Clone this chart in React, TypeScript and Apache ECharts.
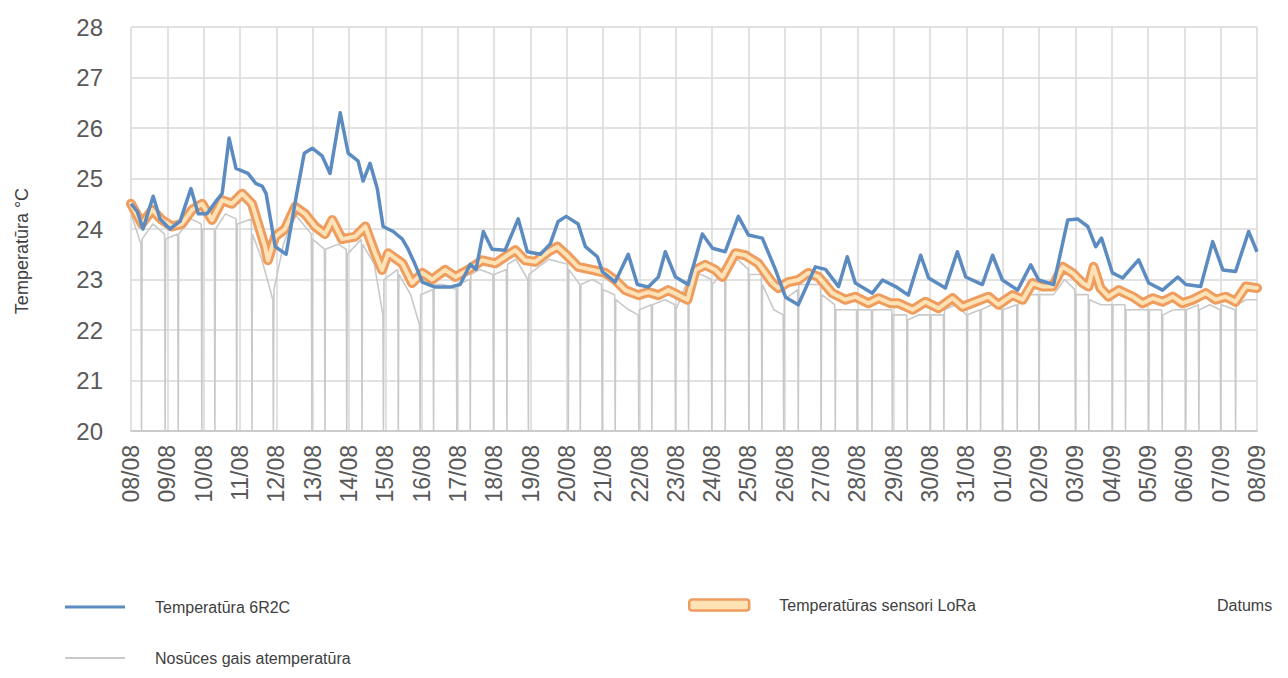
import React, { useEffect, useRef } from 'react';
import * as echarts from 'echarts';

// Day labels along the x axis (one per day, 08 Aug – 08 Sep)
const dayLabels: string[] = [
  '08/08', '09/08', '10/08', '11/08', '12/08', '13/08', '14/08', '15/08',
  '16/08', '17/08', '18/08', '19/08', '20/08', '21/08', '22/08', '23/08',
  '24/08', '25/08', '26/08', '27/08', '28/08', '29/08', '30/08', '31/08',
  '01/09', '02/09', '03/09', '04/09', '05/09', '06/09', '07/09', '08/09',
];

// [day offset from 08/08, °C]
const temp6R2C: [number, number][] = [
  [0, 24.5], [0.17, 24.35], [0.33, 24.0], [0.61, 24.65], [0.8, 24.2], [1.07, 24.0], [1.35, 24.15],
  [1.65, 24.8], [1.85, 24.3], [2.09, 24.3], [2.34, 24.55], [2.51, 24.7], [2.7, 25.8], [2.89, 25.2],
  [3.22, 25.1], [3.44, 24.9], [3.61, 24.85], [3.72, 24.7], [3.97, 23.65], [4.27, 23.5], [4.55, 24.65],
  [4.77, 25.5], [4.99, 25.6], [5.26, 25.45], [5.48, 25.1], [5.76, 26.3], [5.98, 25.5], [6.25, 25.35],
  [6.39, 24.95], [6.58, 25.3], [6.78, 24.8], [6.94, 24.05], [7.22, 23.95], [7.47, 23.8], [7.63, 23.6],
  [7.82, 23.3], [8.02, 22.95], [8.37, 22.85], [8.79, 22.85], [9.06, 22.9], [9.34, 23.3], [9.5, 23.2],
  [9.7, 23.95], [9.94, 23.6], [10.3, 23.58], [10.66, 24.2], [10.91, 23.55], [11.27, 23.5], [11.54, 23.7],
  [11.76, 24.15], [11.98, 24.25], [12.31, 24.1], [12.51, 23.65], [12.84, 23.45], [12.98, 23.15],
  [13.33, 22.95], [13.69, 23.5], [13.94, 22.9], [14.24, 22.85], [14.52, 23.05], [14.71, 23.55],
  [14.99, 23.05], [15.34, 22.9], [15.73, 23.9], [16.01, 23.62], [16.36, 23.55], [16.72, 24.25],
  [17.0, 23.88], [17.38, 23.82], [17.74, 23.2], [18.02, 22.65], [18.37, 22.5], [18.84, 23.25],
  [19.12, 23.2], [19.48, 22.86], [19.72, 23.45], [19.94, 22.93], [20.41, 22.73], [20.69, 22.99],
  [21.05, 22.86], [21.4, 22.69], [21.74, 23.48], [21.96, 23.03], [22.42, 22.83], [22.75, 23.55],
  [22.98, 23.05], [23.44, 22.9], [23.72, 23.48], [23.99, 22.99], [24.41, 22.79], [24.77, 23.29],
  [24.99, 22.99], [25.4, 22.9], [25.79, 24.18], [26.06, 24.2], [26.34, 24.05], [26.56, 23.65],
  [26.72, 23.82], [27.02, 23.13], [27.3, 23.03], [27.74, 23.39], [28.02, 22.93], [28.4, 22.79],
  [28.82, 23.05], [29.04, 22.9], [29.45, 22.86], [29.78, 23.75], [30.06, 23.19], [30.41, 23.16],
  [30.77, 23.95], [31, 23.55],
];

const loraSensors: [number, number][] = [
  [0, 24.5], [0.3, 24.1], [0.58, 24.38], [0.85, 24.18], [1.13, 24.05], [1.4, 24.1], [1.68, 24.38],
  [1.96, 24.5], [2.23, 24.18], [2.51, 24.57], [2.78, 24.5], [3.06, 24.7], [3.33, 24.5], [3.5, 24.1],
  [3.69, 23.65], [3.77, 23.38], [3.97, 23.85], [4.24, 24.0], [4.52, 24.44], [4.79, 24.3], [5.07, 24.05],
  [5.34, 23.9], [5.54, 24.18], [5.81, 23.8], [6.17, 23.85], [6.45, 24.05], [6.72, 23.52], [6.91, 23.19],
  [7.08, 23.52], [7.47, 23.32], [7.74, 22.93], [8.02, 23.13], [8.29, 23.0], [8.65, 23.19], [8.93, 23.05],
  [9.28, 23.19], [9.67, 23.38], [10.03, 23.32], [10.3, 23.45], [10.58, 23.58], [10.85, 23.38],
  [11.13, 23.35], [11.49, 23.55], [11.74, 23.65], [12.04, 23.45], [12.31, 23.25], [12.7, 23.19],
  [13.06, 23.13], [13.33, 22.99], [13.61, 22.79], [13.97, 22.69], [14.24, 22.75], [14.52, 22.69],
  [14.79, 22.79], [15.07, 22.69], [15.32, 22.6], [15.54, 23.19], [15.81, 23.29], [16.09, 23.19],
  [16.28, 23.05], [16.64, 23.52], [16.91, 23.48], [17.27, 23.32], [17.66, 22.93], [17.82, 22.83],
  [18.1, 22.95], [18.37, 22.99], [18.65, 23.13], [18.93, 23.05], [19.31, 22.73], [19.67, 22.6],
  [19.94, 22.66], [20.3, 22.53], [20.58, 22.63], [20.91, 22.53], [21.13, 22.53], [21.52, 22.4],
  [21.87, 22.56], [22.23, 22.43], [22.62, 22.63], [22.89, 22.46], [23.25, 22.56], [23.61, 22.66],
  [23.88, 22.5], [24.27, 22.69], [24.55, 22.6], [24.82, 22.93], [25.1, 22.86], [25.37, 22.86],
  [25.65, 23.25], [25.92, 23.13], [26.2, 22.93], [26.36, 22.86], [26.5, 23.25], [26.69, 22.83],
  [26.91, 22.66], [27.19, 22.79], [27.58, 22.66], [27.85, 22.53], [28.13, 22.63], [28.4, 22.56],
  [28.68, 22.66], [28.95, 22.53], [29.23, 22.6], [29.59, 22.73], [29.86, 22.6], [30.14, 22.66],
  [30.41, 22.56], [30.69, 22.86], [31, 22.83],
];

// Exhaust air: the reading falls to the axis floor twice a day
const exhaustAir: [number, number][] = [
  [0, 24.3], [0.275, 23.7], [0.29, 20], [0.305, 23.8], [0.6, 24.1],
  [0.925, 23.9], [0.94, 20], [0.955, 23.8], [1.285, 23.9], [1.3, 20], [1.315, 23.9], [1.65, 24.2],
  [1.935, 24.1], [1.95, 20], [1.965, 24.0], [2.295, 24.0], [2.31, 20], [2.325, 24.0], [2.6, 24.3],
  [2.895, 24.2], [2.91, 20], [2.925, 24.1], [3.315, 24.2], [3.33, 20], [3.345, 23.9], [3.6, 23.4],
  [3.905, 22.6], [3.92, 20], [3.935, 22.8], [4.2, 23.7], [4.5, 24.3],
  [4.965, 23.9], [4.98, 20], [4.995, 23.8], [5.325, 23.6], [5.34, 20], [5.355, 23.6], [5.7, 23.7],
  [5.925, 23.6], [5.94, 20], [5.955, 23.5], [6.345, 23.8], [6.36, 20], [6.375, 23.7], [6.7, 23.3],
  [6.935, 22.3], [6.95, 20], [6.965, 23.0], [7.345, 23.2], [7.36, 20], [7.375, 23.1], [7.7, 22.7],
  [7.945, 22.1], [7.96, 20], [7.975, 22.7], [8.315, 22.8], [8.33, 20], [8.345, 22.9], [8.6, 22.9],
  [8.955, 22.8], [8.97, 20], [8.985, 22.9], [9.325, 23.0], [9.34, 20], [9.355, 23.1], [9.6, 23.2],
  [9.965, 23.1], [9.98, 20], [9.995, 23.1], [10.335, 23.2], [10.35, 20], [10.365, 23.3], [10.6, 23.4],
  [10.925, 23.0], [10.94, 20], [10.955, 23.1], [11.5, 23.4],
  [12.025, 23.3], [12.04, 20], [12.055, 23.2], [12.355, 22.9], [12.37, 20], [12.385, 22.9], [12.7, 23.0],
  [12.955, 22.9], [12.97, 20], [12.985, 22.8], [13.315, 22.7], [13.33, 20], [13.345, 22.6], [13.7, 22.4],
  [13.965, 22.3], [13.98, 20], [13.995, 22.4], [14.325, 22.5], [14.34, 20], [14.355, 22.5], [14.7, 22.6],
  [14.975, 22.5], [14.99, 20], [15.005, 22.4], [15.335, 23.0], [15.35, 20], [15.365, 23.1], [15.7, 23.1],
  [15.975, 23.0], [15.99, 20], [16.005, 22.9], [16.345, 23.2], [16.36, 20], [16.375, 23.3], [16.7, 23.4],
  [16.995, 23.2], [17.01, 20], [17.025, 23.1], [17.355, 23.1], [17.37, 20], [17.385, 22.9], [17.7, 22.4],
  [17.955, 22.3], [17.97, 20], [17.985, 22.6], [18.355, 22.8], [18.37, 20], [18.385, 22.9], [18.7, 22.9],
  [18.985, 22.9], [19.0, 20], [19.015, 22.7], [19.375, 22.5], [19.39, 20], [19.405, 22.4], [19.7, 22.4],
  [19.975, 22.4], [19.99, 20], [20.005, 22.4], [20.385, 22.4], [20.4, 20], [20.415, 22.4], [20.7, 22.4],
  [20.945, 22.4], [20.96, 20], [20.975, 22.3], [21.355, 22.3], [21.37, 20], [21.385, 22.2], [21.7, 22.3],
  [21.995, 22.3], [22.01, 20], [22.025, 22.3], [22.365, 22.3], [22.38, 20], [22.395, 22.4], [22.7, 22.5],
  [23.005, 22.3], [23.02, 20], [23.035, 22.3], [23.375, 22.4], [23.39, 20], [23.405, 22.4], [23.7, 22.5],
  [23.975, 22.4], [23.99, 20], [24.005, 22.4], [24.385, 22.5], [24.4, 20], [24.415, 22.5], [24.7, 22.7],
  [24.985, 22.7], [25.0, 20], [25.015, 22.7], [25.4, 22.7], [25.7, 23.0],
  [25.985, 22.8], [26.0, 20], [26.015, 22.7], [26.355, 22.7], [26.37, 20], [26.385, 22.6], [26.7, 22.5],
  [27.005, 22.5], [27.02, 20], [27.035, 22.5], [27.365, 22.5], [27.38, 20], [27.395, 22.4], [27.7, 22.4],
  [28.005, 22.4], [28.02, 20], [28.035, 22.4], [28.375, 22.4], [28.39, 20], [28.405, 22.3], [28.7, 22.4],
  [29.025, 22.4], [29.04, 20], [29.055, 22.4], [29.385, 22.5], [29.4, 20], [29.415, 22.4], [29.7, 22.5],
  [29.985, 22.4], [30.0, 20], [30.015, 22.5], [30.395, 22.4], [30.41, 20], [30.425, 22.5], [30.7, 22.6],
  [31, 22.6],
];

const NAME_6R2C = 'Temperatūra 6R2C';
const NAME_LORA = 'Temperatūras sensori LoRa';
const NAME_EXHAUST = 'Nosūces gais atemperatūra';

const FONT = "'Liberation Sans', Arial, sans-serif";
const BLUE = '#5b8bc0';
const ORANGE = '#ef9d5e';
const ORANGE_FILL = '#fde2b6';
const GREY = '#c9c9c9';
const GRID = '#d9d9d9';

export default function App() {
  const ref = useRef<HTMLDivElement>(null);

  useEffect(() => {
    if (!ref.current) return;
    const chart = echarts.init(ref.current, null, { renderer: 'svg' });

    const legendText = {
      fontFamily: FONT,
      fontSize: 16,
      color: '#404040',
      padding: [0, 0, 0, 25],
    };

    chart.setOption({
      animation: false,
      backgroundColor: '#ffffff',
      textStyle: { fontFamily: FONT },
      grid: { left: 131, right: 31, top: 27, bottom: 247 },
      title: {
        text: 'Datums',
        left: 1217,
        top: 597,
        padding: 0,
        textStyle: { fontFamily: FONT, fontSize: 16, fontWeight: 'normal', color: '#404040' },
      },
      legend: [
        {
          data: [{ name: NAME_6R2C, icon: 'rect' }],
          left: 60,
          top: 594,
          itemWidth: 60,
          itemHeight: 3,
          textStyle: legendText,
        },
        {
          data: [
            {
              name: NAME_LORA,
              icon: 'roundRect',
              itemStyle: { color: ORANGE_FILL, borderColor: ORANGE, borderWidth: 2.5 },
            },
          ],
          left: 683,
          top: 592,
          itemWidth: 60,
          itemHeight: 11,
          textStyle: legendText,
        },
        {
          data: [{ name: NAME_EXHAUST, icon: 'rect' }],
          left: 60,
          top: 645,
          itemWidth: 60,
          itemHeight: 2,
          textStyle: legendText,
        },
      ],
      xAxis: {
        type: 'value',
        min: 0,
        max: dayLabels.length - 1,
        interval: 1,
        axisLine: { show: true, lineStyle: { color: '#c4c4c4', width: 1.5 } },
        axisTick: { show: false },
        splitLine: { show: true, lineStyle: { color: GRID, width: 1.5 } },
        axisLabel: {
          rotate: 90,
          margin: 14,
          color: '#595959',
          fontFamily: FONT,
          fontSize: 23,
          formatter: (v: number) => dayLabels[Math.round(v)] ?? '',
        },
      },
      yAxis: {
        type: 'value',
        min: 20,
        max: 28,
        interval: 1,
        name: 'Temperatūra °C',
        nameLocation: 'middle',
        nameRotate: 90,
        nameGap: 100,
        nameTextStyle: { fontFamily: FONT, fontSize: 18, color: '#404040', padding: [0, 44, 0, 0] },
        axisLine: { show: false },
        axisTick: { show: false },
        axisLabel: { color: '#595959', fontFamily: FONT, fontSize: 24, margin: 28 },
        splitLine: { show: true, lineStyle: { color: GRID, width: 1.5 } },
      },
      series: [
        {
          name: NAME_EXHAUST,
          type: 'line',
          data: exhaustAir,
          symbol: 'none',
          itemStyle: { color: GREY },
          lineStyle: { color: GREY, width: 1.6 },
          z: 2,
        },
        {
          name: NAME_LORA,
          type: 'line',
          data: loraSensors,
          symbol: 'none',
          itemStyle: { color: ORANGE },
          lineStyle: { color: ORANGE, width: 10, join: 'round', cap: 'round' },
          z: 3,
        },
        {
          name: NAME_LORA,
          type: 'line',
          data: loraSensors,
          symbol: 'none',
          itemStyle: { color: ORANGE_FILL },
          lineStyle: { color: ORANGE_FILL, width: 4, join: 'round', cap: 'round' },
          z: 4,
        },
        {
          name: NAME_6R2C,
          type: 'line',
          data: temp6R2C,
          symbol: 'none',
          itemStyle: { color: BLUE },
          lineStyle: { color: BLUE, width: 3.5, join: 'round' },
          z: 5,
        },
      ],
    });

    return () => chart.dispose();
  }, []);

  return (
    <div
      ref={ref}
      style={{ position: 'fixed', left: 0, top: 0, width: 1288, height: 678, background: '#fff' }}
    />
  );
}
